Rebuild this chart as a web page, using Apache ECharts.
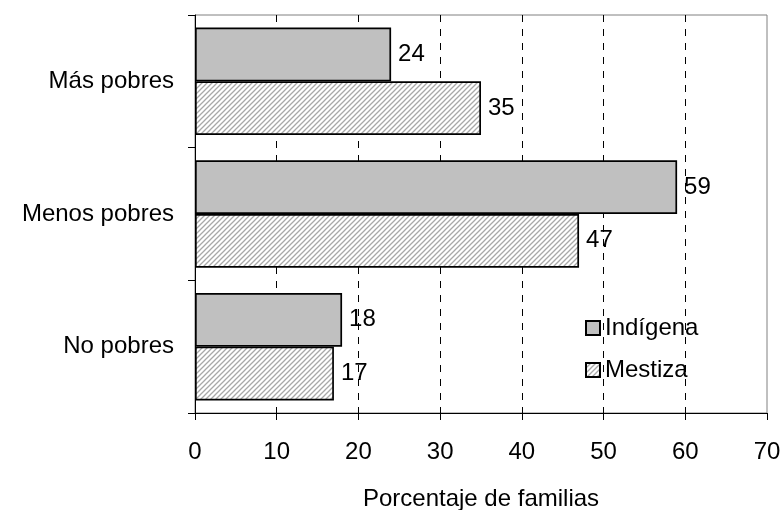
<!DOCTYPE html>
<html>
<head>
<meta charset="utf-8">
<script src="https://cdn.jsdelivr.net/npm/echarts@6/dist/echarts.min.js"></script>
<style>html,body{margin:0;padding:0;background:#fff}#c{width:782px;height:510px}</style>
</head>
<body>
<div id="c"></div>
<script>
var categories = ['Más pobres', 'Menos pobres', 'No pobres'];
var indigena = [24, 59, 18];
var mestiza = [35, 47, 17];
var xTicks = [0, 10, 20, 30, 40, 50, 60, 70];

function hatch() {
  var s = 5;
  var c = document.createElement('canvas');
  c.width = s; c.height = s;
  var g = c.getContext('2d');
  g.fillStyle = '#fff';
  g.fillRect(0, 0, s, s);
  g.strokeStyle = '#a8a8a8';
  g.lineWidth = 1.3;
  g.beginPath();
  g.moveTo(-1, s + 1); g.lineTo(s + 1, -1);
  g.moveTo(-1, 1); g.lineTo(1, -1);
  g.moveTo(s - 1, s + 1); g.lineTo(s + 1, s - 1);
  g.stroke();
  return c;
}

var font = 'Liberation Sans, Arial, sans-serif';
var chart = echarts.init(document.getElementById('c'), null, {renderer: 'canvas'});
chart.setOption({
  backgroundColor: '#fff',
  animation: false,
  textStyle: {fontFamily: font},
  grid: {left: 195, right: 15, top: 15, bottom: 97, containLabel: false, outerBoundsMode: 'none',
    show: true, borderColor: '#808080', borderWidth: 1, backgroundColor: 'transparent'},
  legend: {
    orient: 'vertical', left: 585, top: 316, padding: 0, itemGap: 18,
    itemWidth: 14, itemHeight: 14, icon: 'rect',
    textStyle: {fontSize: 24, color: '#000', fontFamily: font},
    data: ['Indígena', 'Mestiza']
  },
  xAxis: {
    type: 'value', min: xTicks[0], max: xTicks[xTicks.length - 1], interval: 10,
    name: 'Porcentaje de familias', nameLocation: 'middle', nameGap: 74,
    nameTextStyle: {fontSize: 24, color: '#000', fontFamily: font},
    axisLine: {show: true, lineStyle: {color: '#000', width: 1}},
    axisTick: {show: true, length: 7, lineStyle: {color: '#000'}},
    axisLabel: {fontSize: 24, color: '#000', margin: 27, fontFamily: font},
    splitLine: {show: true, showMinLine: false, showMaxLine: false, lineStyle: {color: '#000', type: [7, 7], width: 1}}
  },
  yAxis: {
    type: 'category', inverse: true, data: categories,
    axisLine: {show: true, lineStyle: {color: '#000', width: 1}},
    axisTick: {show: true, length: 7, lineStyle: {color: '#000'}},
    axisLabel: {fontSize: 24, color: '#000', margin: 21, fontFamily: font}
  },
  series: [
    {
      name: 'Indígena', type: 'bar', data: indigena, barGap: '0%', barCategoryGap: '19%',
      itemStyle: {color: '#c0c0c0', borderColor: '#000', borderWidth: 1.7},
      label: {show: true, position: 'right', distance: 7, fontSize: 24, color: '#000', fontFamily: font}
    },
    {
      name: 'Mestiza', type: 'bar', data: mestiza, barGap: '0%', barCategoryGap: '19%',
      itemStyle: {color: {image: hatch(), repeat: 'repeat'}, borderColor: '#000', borderWidth: 1.7},
      label: {show: true, position: 'right', distance: 7, fontSize: 24, color: '#000', fontFamily: font}
    }
  ]
});
</script>
</body>
</html>
